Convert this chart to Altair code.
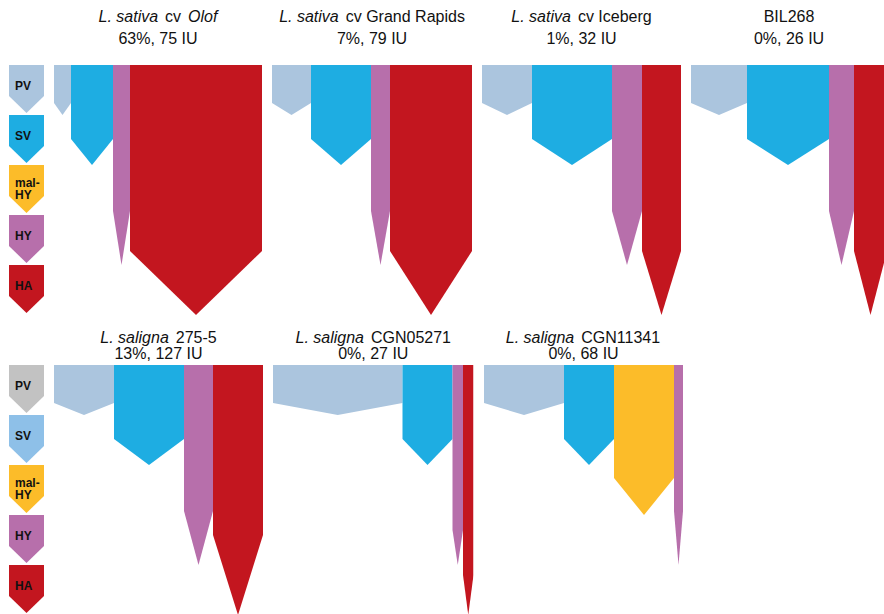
import altair as alt
import pandas as pd

# ---- data -----------------------------------------------------------------
COMPOUNDS = ["PV", "SV", "mal-HY", "HY", "HA"]

# accession titles: first line as (text, italic) pieces
TITLE_PARTS = [
    [("L. sativa", True), ("cv", False), ("Olof", True)],
    [("L. sativa", True), ("cv Grand Rapids", False)],
    [("L. sativa", True), ("cv Iceberg", False)],
    [("BIL268", False)],
    [("L. saligna", True), ("275-5", False)],
    [("L. saligna", True), ("CGN05271", False)],
    [("L. saligna", True), ("CGN11341", False)],
]
PERCENT = [63, 7, 1, 0, 13, 0, 0]
IU = [75, 79, 32, 26, 127, 27, 68]

# relative amount of each compound per accession (0 = not detected)
PV_AMOUNT = [17, 39, 50, 56, 60, 129.5, 80]
SV_AMOUNT = [42, 60, 80, 82, 70, 50, 50]
MALHY_AMOUNT = [0, 0, 0, 0, 0, 0, 60]
HY_AMOUNT = [17, 19, 30, 25, 29, 10.5, 9]
HA_AMOUNT = [132, 82, 39, 33, 50, 10.5, 0]

AMOUNTS = {"PV": PV_AMOUNT, "SV": SV_AMOUNT, "mal-HY": MALHY_AMOUNT,
           "HY": HY_AMOUNT, "HA": HA_AMOUNT}

ROWS = [[0, 1, 2, 3], [4, 5, 6]]

# ---- style ----------------------------------------------------------------
FONT = "Liberation Sans"
TEXT_COLOR = "#111111"
SHAPE_COLORS = {"PV": "#abc5de", "SV": "#1eade2", "mal-HY": "#fcbc29",
                "HY": "#b76fab", "HA": "#c3161f"}
LEGEND_COLORS = [
    {"PV": "#abc5de", "SV": "#1eade2", "mal-HY": "#fcbc29", "HY": "#b76fab", "HA": "#c3161f"},
    {"PV": "#c2c2c2", "SV": "#8ec0e8", "mal-HY": "#fcbc29", "HY": "#b76fab", "HA": "#c3161f"},
]
LEVEL = 50            # depth of one pathway step
DEPTH = 250           # plot height
NOTCH = {"PV": 12, "SV": 26, "mal-HY": 37, "HY": 54, "HA": 64}
NOTCH_OVERRIDE = {(4, "HA"): 80, (5, "HY"): 35, (5, "HA"): 40}
LEG_W = 35
PAD_LEFT = 9
SPACING = 10
CANVAS_W = 884
TITLE_Y = [(-43, -21), (-22, -6)]
TITLE_SIZE = 16
PART_GAP = 7

ARIAL = {" ": 278, ".": 278, ",": 278, "-": 333, "%": 889,
         **{d: 556 for d in "0123456789"},
         "A": 667, "B": 667, "C": 722, "D": 722, "E": 667, "F": 611, "G": 778,
         "H": 722, "I": 278, "J": 500, "K": 667, "L": 556, "M": 833, "N": 722,
         "O": 778, "P": 667, "Q": 778, "R": 722, "S": 667, "T": 611, "U": 722,
         "V": 667, "W": 944, "X": 667, "Y": 667, "Z": 611,
         "a": 556, "b": 556, "c": 500, "d": 556, "e": 556, "f": 278, "g": 556,
         "h": 556, "i": 222, "j": 222, "k": 500, "l": 222, "m": 833, "n": 556,
         "o": 556, "p": 556, "q": 556, "r": 333, "s": 500, "t": 278, "u": 556,
         "v": 500, "w": 722, "x": 500, "y": 500, "z": 500}


def text_width(s, size):
    return sum(ARIAL.get(ch, 556) for ch in s) * size / 1000.0


def y_enc(field):
    return alt.Y(field, scale=alt.Scale(domain=[0, DEPTH], reverse=True, nice=False, zero=False),
                 axis=None, stack=None)


def title_layers(i, center, row):
    y1, y2 = TITLE_Y[row]
    parts = TITLE_PARTS[i]
    widths = [text_width(t, TITLE_SIZE) for t, _ in parts]
    total = sum(widths) + PART_GAP * (len(parts) - 1)
    x = center - total / 2
    layers = []
    for (t, italic), w in zip(parts, widths):
        layers.append(
            alt.Chart(pd.DataFrame({"t": [t]})).mark_text(
                align="left", baseline="alphabetic", font=FONT,
                fontSize=TITLE_SIZE, fontStyle="italic" if italic else "normal",
                color=TEXT_COLOR,
            ).encode(text="t:N", x=alt.value(x), y=alt.value(y1))
        )
        x += w + PART_GAP
    line2 = f"{PERCENT[i]}%, {IU[i]} IU"
    layers.append(
        alt.Chart(pd.DataFrame({"t": [line2]})).mark_text(
            align="center", baseline="alphabetic", font=FONT,
            fontSize=TITLE_SIZE, color=TEXT_COLOR,
        ).encode(text="t:N", x=alt.value(center), y=alt.value(y2))
    )
    return layers


def panel_chart(i, row, view_limit=None):
    recs = []
    x0 = 0.0
    for k, c in enumerate(COMPOUNDS, start=1):
        w = AMOUNTS[c][i]
        if not w:
            continue
        tip = LEVEL * k
        notch = NOTCH_OVERRIDE.get((i, c), NOTCH[c])
        pts = [(x0, tip - notch), (x0 + w / 2, tip), (x0 + w, tip - notch)]
        for x, d in pts:
            recs.append({"compound": c, "x": x, "depth": d, "top": 0,
                         "fill": SHAPE_COLORS[c]})
        x0 += w
    total = x0
    width = total if view_limit is None else min(total, view_limit)
    shapes = alt.Chart(pd.DataFrame(recs)).mark_area(
        clip=True, opacity=1, interpolate="linear"
    ).encode(
        x=alt.X("x:Q", scale=alt.Scale(domain=[0, width], nice=False, zero=False), axis=None),
        y=y_enc("depth:Q"),
        y2="top:Q",
        color=alt.Color("fill:N", scale=None),
        detail="compound:N",
    )
    return alt.layer(shapes, *title_layers(i, total / 2, row)).properties(
        width=width, height=DEPTH
    ), total


def legend_chart(row):
    recs, labels = [], []
    for k, c in enumerate(COMPOUNDS):
        top = LEVEL * k
        pts = [(0, top + 31), (LEG_W / 2, top + 48), (LEG_W, top + 31)]
        for x, d in pts:
            recs.append({"compound": c, "x": x, "depth": d, "top": top,
                         "fill": LEGEND_COLORS[row][c]})
        lines = c.replace("-", "-\n").split("\n")
        first = top + 25 - 3.3 * (len(lines) - 1)
        for j, ln in enumerate(lines):
            labels.append({"t": ln, "ty": first + 12.6 * j})
    shapes = alt.Chart(pd.DataFrame(recs)).mark_area(opacity=1).encode(
        x=alt.X("x:Q", scale=alt.Scale(domain=[0, LEG_W], nice=False, zero=False), axis=None),
        y=y_enc("depth:Q"),
        y2="top:Q",
        color=alt.Color("fill:N", scale=None),
        detail="compound:N",
    )
    text = alt.Chart(pd.DataFrame(labels)).mark_text(
        align="left", baseline="alphabetic", font=FONT, fontSize=12,
        fontWeight="bold", color=TEXT_COLOR,
    ).encode(text="t:N", x=alt.value(6), y=y_enc("ty:Q"))
    return alt.layer(shapes, text).properties(width=LEG_W, height=DEPTH)


rows = []
for r, idxs in enumerate(ROWS):
    charts = [legend_chart(r)]
    used = PAD_LEFT + LEG_W
    for n, i in enumerate(idxs):
        limit = CANVAS_W - used - SPACING if n == len(idxs) - 1 else None
        ch, total = panel_chart(i, r, limit)
        charts.append(ch)
        used += SPACING + total
    rows.append(
        alt.hconcat(*charts, spacing=SPACING, bounds="flush")
        .resolve_scale(x="independent", y="independent")
    )

chart = (
    alt.vconcat(*rows, spacing=15)
    .resolve_scale(x="independent", y="independent")
    .properties(padding={"left": PAD_LEFT, "top": 9, "right": 0, "bottom": 0})
    .configure(font=FONT)
    .configure_view(strokeWidth=0, stroke="transparent")
)

chart.save("out.html", embed_options={"renderer": "svg", "actions": False})
